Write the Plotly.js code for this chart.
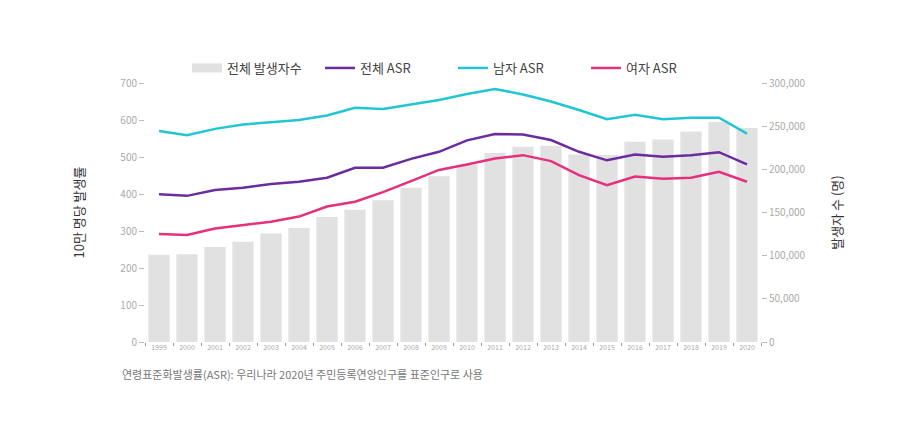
<!DOCTYPE html>
<html><head><meta charset="utf-8">
<script src="https://cdn.plot.ly/plotly-3.0.1.min.js"></script>
<style>html,body{margin:0;padding:0;background:#fff;}#chart{width:900px;height:422px;}</style>
</head><body><div id="chart"></div>
<script>
const years = ['1999','2000','2001','2002','2003','2004','2005','2006','2007','2008','2009','2010','2011','2012','2013','2014','2015','2016','2017','2018','2019','2020'];
const totalCases = [101032,101781,109981,116180,125707,132163,144902,153121,164318,178616,191915,205165,219035,226216,227341,217194,216542,231900,234440,243826,254718,247952];
const asrAll    = [399,395,411,417,427,433,444,471,471,495,514,545,562,561,546,514,491,507,501,505,513,480];
const asrMale   = [570,559,576,588,594,600,612,633,630,642,654,670,684,669,650,627,602,614,602,606,606,563];
const asrFemale = [292,289,307,316,325,339,366,379,405,435,465,480,496,505,489,451,424,447,441,444,460,433];
const names = ['전체 발생자수','전체 ASR','남자 ASR','여자 ASR'];
const caption = '연령표준화발생률(ASR): 우리나라 2020년 주민등록연앙인구를 표준인구로 사용';

const font = 'Noto Sans CJK KR, Noto Sans, sans-serif';
const barColor = '#e1e1e1';
const traces = [
  {type:'bar', x:years, y:totalCases, name:names[0], yaxis:'y', marker:{color:barColor}, width:0.76,
   showlegend:false, legendgroup:'bars'},
  {type:'scatter', mode:'lines', x:[years[0]], y:[null], name:names[0], yaxis:'y', legendgroup:'bars',
   line:{color:barColor, width:9}, showlegend:true, hoverinfo:'skip'},
  {type:'scatter', mode:'lines', x:years, y:asrAll, name:names[1], yaxis:'y2', line:{color:'#6a2c9e', width:2.5}},
  {type:'scatter', mode:'lines', x:years, y:asrMale, name:names[2], yaxis:'y2', line:{color:'#21c6d3', width:2.5}},
  {type:'scatter', mode:'lines', x:years, y:asrFemale, name:names[3], yaxis:'y2', line:{color:'#e5307c', width:2.5}}
];
const layout = {
  width:900, height:422,
  margin:{l:145, r:139, t:83, b:80},
  paper_bgcolor:'#fff', plot_bgcolor:'#fff',
  font:{family:font, color:'#555'},
  showlegend:true,
  legend:{orientation:'h', x:0.5, xanchor:'center', y:1.0, yanchor:'bottom', entrywidth:88, entrywidthmode:'pixels',
          font:{size:13, color:'#444'}, traceorder:'normal'},
  xaxis:{type:'category', tickson:'boundaries', ticks:'outside', ticklen:3, tickcolor:'#999',
         tickfont:{size:7, color:'#aaa'}, showgrid:false, zeroline:false, showline:false, tickangle:0},
  yaxis:{range:[0,300000], dtick:50000, side:'right', showgrid:false, zeroline:false,
         ticks:'outside', ticklen:5, tickcolor:'#bbb', tickformat:',d', tickfont:{size:10, color:'#aaa'},
         title:{text:'발생자 수 (명)', font:{size:13, color:'#333'}, standoff:28}},
  yaxis2:{range:[0,700], dtick:100, overlaying:'y', side:'left', showgrid:false, zeroline:false,
          ticks:'outside', ticklen:5, tickcolor:'#bbb', tickfont:{size:10, color:'#aaa'},
          title:{text:'10만 명당 발생률', font:{size:13, color:'#333'}, standoff:32}},
  annotations:[{text:caption, xref:'paper', yref:'paper', x:-0.04, y:-0.085, xanchor:'left', yanchor:'top',
                showarrow:false, font:{size:11, color:'#777'}}]
};
Plotly.newPlot('chart', traces, layout, {displayModeBar:false, staticPlot:true});
</script></body></html>
